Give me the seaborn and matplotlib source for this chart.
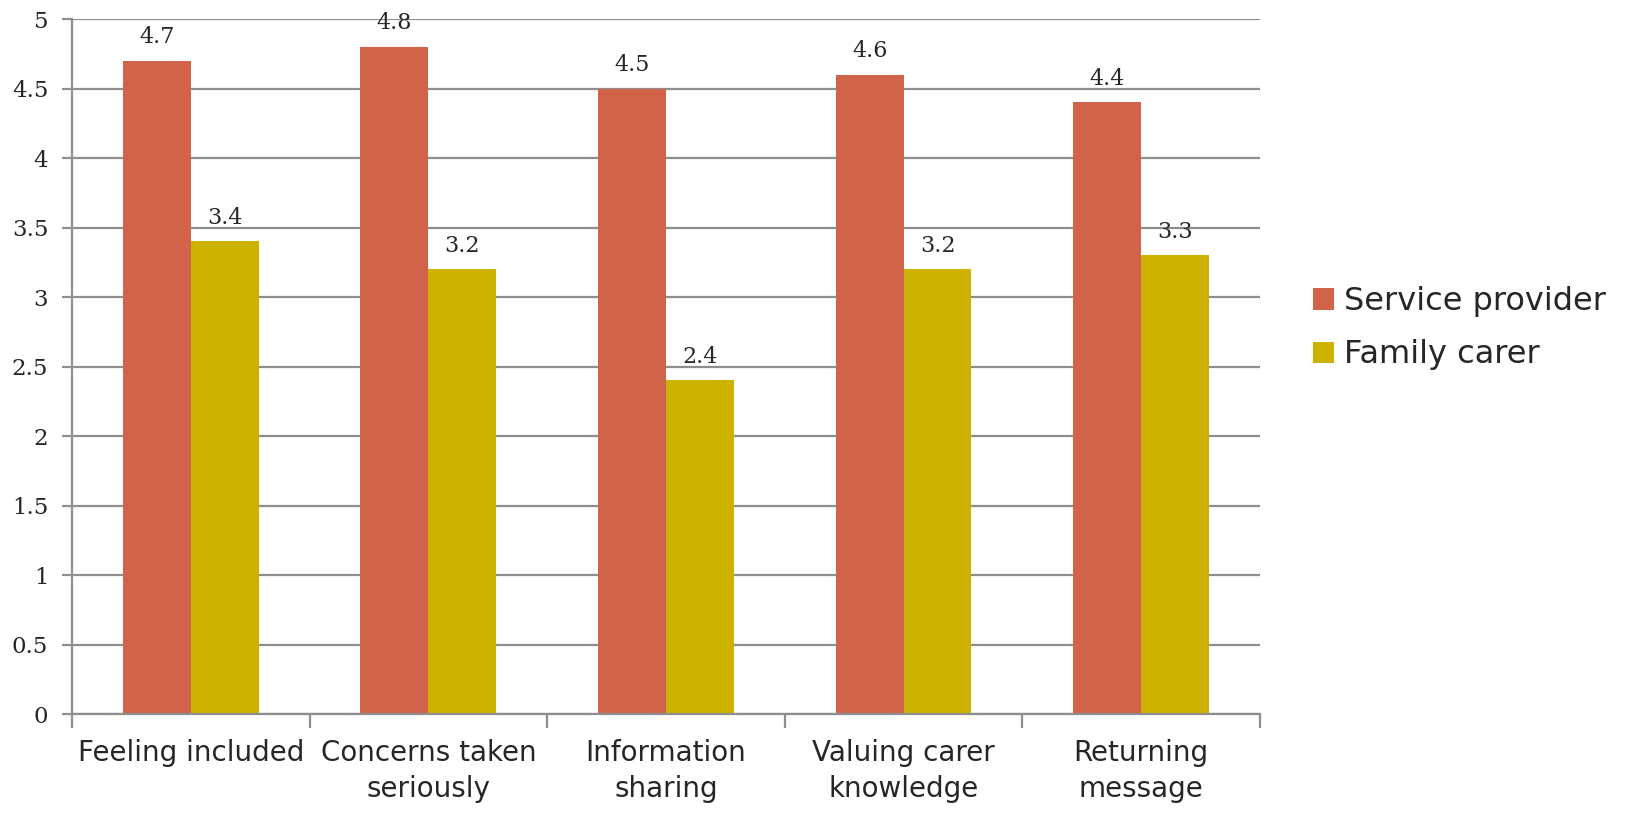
import matplotlib
matplotlib.use("Agg")
import matplotlib.pyplot as plt
import pandas as pd
import seaborn as sns
from matplotlib.ticker import MultipleLocator, FixedLocator

# data
categories = ["Feeling included", "Concerns taken\nseriously", "Information\nsharing",
              "Valuing carer\nknowledge", "Returning\nmessage"]
service_provider = [4.7, 4.8, 4.5, 4.6, 4.4]
family_carer = [3.4, 3.2, 2.4, 3.2, 3.3]
series_names = ["Service provider", "Family carer"]
colors = ["#D2634B", "#CDB300"]

df = pd.DataFrame({
    "category": categories * 2,
    "score": service_provider + family_carer,
    "group": [series_names[0]] * len(categories) + [series_names[1]] * len(categories),
})

sns.set_style("white")
grid_col = "#8E8E8E"

fig = plt.figure(figsize=(16.31, 8.35), dpi=100)
ax = fig.add_axes([0.0441, 0.1449, 0.7284, 0.8323])

sns.barplot(data=df, x="category", y="score", hue="group", order=categories,
            hue_order=series_names, palette=colors, width=0.572, saturation=1,
            linewidth=0, ax=ax, zorder=2)

for cont in ax.containers:
    ax.bar_label(cont, fmt="%.1f", padding=9, fontsize=16, family="DejaVu Serif")

ax.set_ylim(0, 5)
ax.set_xlim(-0.5, len(categories) - 0.5)
ax.yaxis.set_major_locator(MultipleLocator(0.5))
ax.set_yticklabels([f"{v:g}" for v in ax.get_yticks()], family="DejaVu Serif", fontsize=16.5)
ax.grid(axis="y", color=grid_col, linewidth=1.6, zorder=0)
ax.set_axisbelow(True)

ax.tick_params(axis="y", which="major", left=True, length=7, width=1.6, color=grid_col, pad=10)
ax.tick_params(axis="x", which="major", length=0, pad=18, labelsize=20)
ax.xaxis.set_minor_locator(FixedLocator([i - 0.5 for i in range(len(categories) + 1)]))
ax.tick_params(axis="x", which="minor", bottom=True, length=10, width=1.6, color=grid_col)
for lbl in ax.get_xticklabels():
    lbl.set_linespacing(1.38)
    lbl.set_verticalalignment("top")

for s in ["top", "right"]:
    ax.spines[s].set_visible(False)
for s in ["left", "bottom"]:
    ax.spines[s].set_color(grid_col)
    ax.spines[s].set_linewidth(1.6)

ax.set_xlabel("")
ax.set_ylabel("")

ax.legend(loc="center left", bbox_to_anchor=(1.045, 0.555), frameon=False, fontsize=23,
          handlelength=0.65, handleheight=0.65, handletextpad=0.3, labelspacing=0.7,
          borderaxespad=0, borderpad=0)

fig.savefig("out.png", dpi=100)
